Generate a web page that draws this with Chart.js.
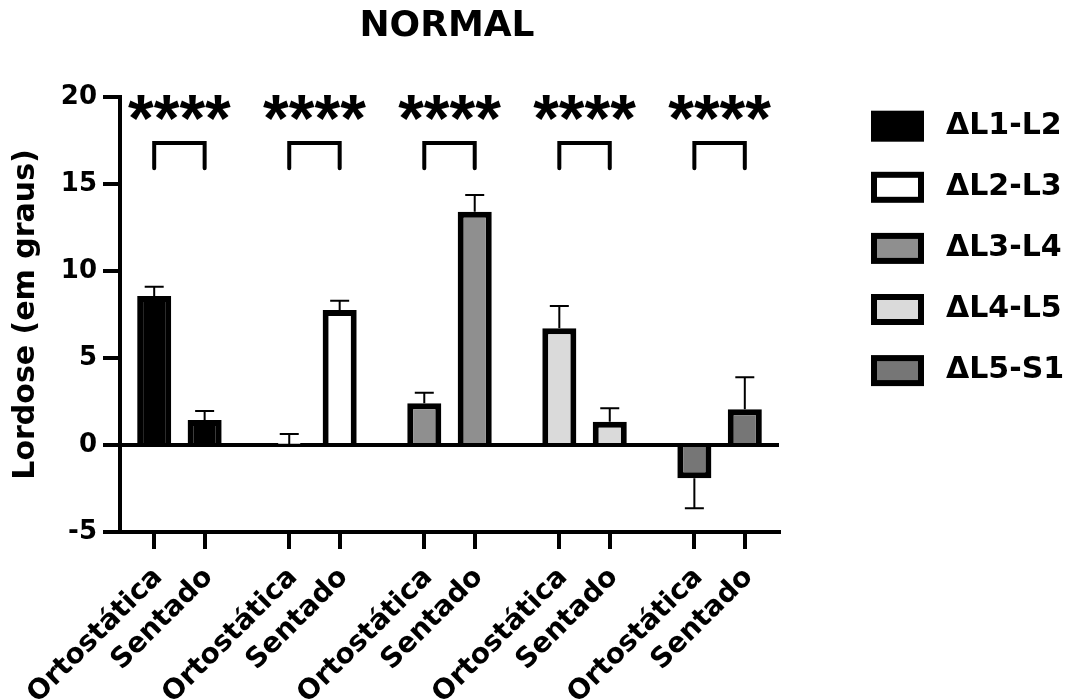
<!DOCTYPE html>
<html><head><meta charset="utf-8">
<script src="https://cdn.jsdelivr.net/npm/chart.js@4.4.1/dist/chart.umd.min.js"></script>
<style>html,body{margin:0;padding:0;background:#fff;}canvas{display:block;}</style>
</head><body>
<canvas id="c" width="1072" height="700"></canvas>
<script>
// ---- data ----
const chartTitle = 'NORMAL';
const yAxisTitle = 'Lordose (em graus)';
const series = ['ΔL1-L2', 'ΔL2-L3', 'ΔL3-L4', 'ΔL4-L5', 'ΔL5-S1'];
const positions = ['Ortostática', 'Sentado'];
const ortoMean = [8.56, 0.03, 2.40, 6.71, -1.91];
const ortoErr  = [0.54, 0.60, 0.61, 1.28, 1.72];
const sentMean = [1.44, 7.76, 13.41, 1.34, 2.05];
const sentErr  = [0.52, 0.53, 0.96, 0.77, 1.84];
const significance = ['****', '****', '****', '****', '****'];
const yTicks = [-5, 0, 5, 10, 15, 20];

// ---- styles ----
const seriesFill = ['#000000', '#ffffff', '#8f8f8f', '#dadada', '#767676'];
const FONT = "'DejaVu Sans', sans-serif";
const STAR_FONT = "'Liberation Sans', Arial, sans-serif";
const CP = 0.747, BP = 0.675;
const SIG = { bracketTop: 17.35, bracketLeg: 15.9, starBase: 17.45 };
const LEG = { x: 871, top: 110.7, step: 61.1, w: 53, h: 31, border: 6, textX: 946 };

const groupIdx = series.map((_, i) => i);

const overlay = {
  id: 'overlay',
  afterDatasetsDraw(chart) {
    const ctx = chart.ctx, y = chart.scales.y;
    ctx.save();
    ctx.strokeStyle = '#000';
    ctx.lineWidth = 2;
    ctx.lineCap = 'butt';
    chart.data.datasets.forEach((ds, d) => {
      const meta = chart.getDatasetMeta(d);
      meta.data.forEach((bar, j) => {
        const v = ds.data[j].y, e = ds.err[j];
        const end = v >= 0 ? v + e : v - e;
        const y0 = y.getPixelForValue(v), y1 = y.getPixelForValue(end);
        ctx.beginPath();
        ctx.moveTo(bar.x, y0); ctx.lineTo(bar.x, y1);
        ctx.moveTo(bar.x - 9.5, y1); ctx.lineTo(bar.x + 9.5, y1);
        ctx.stroke();
      });
    });
    const m0 = chart.getDatasetMeta(0).data, m1 = chart.getDatasetMeta(1).data;
    const yTop = y.getPixelForValue(SIG.bracketTop);
    const yLeg = y.getPixelForValue(SIG.bracketLeg);
    const yStar = y.getPixelForValue(SIG.starBase);
    ctx.lineWidth = 4;
    ctx.lineJoin = 'miter';
    ctx.lineCap = 'round';
    ctx.fillStyle = '#000';
    ctx.font = 'bold 66px ' + STAR_FONT;
    ctx.textAlign = 'center';
    ctx.textBaseline = 'alphabetic';
    significance.forEach((s, i) => {
      const xa = m0[i].x, xb = m1[i].x;
      ctx.beginPath();
      ctx.moveTo(xa, yLeg); ctx.lineTo(xa, yTop); ctx.lineTo(xb, yTop); ctx.lineTo(xb, yLeg);
      ctx.stroke();
      ctx.fillText(s, (xa + xb) / 2, yStar);
    });
    ctx.restore();
  },
  afterDraw(chart) {
    const ctx = chart.ctx;
    ctx.save();
    ctx.font = 'bold 30px ' + FONT;
    ctx.textBaseline = 'middle';
    ctx.textAlign = 'left';
    series.forEach((name, i) => {
      const top = LEG.top + i * LEG.step;
      ctx.fillStyle = '#000';
      ctx.fillRect(LEG.x, top, LEG.w, LEG.h);
      ctx.fillStyle = seriesFill[i];
      ctx.fillRect(LEG.x + LEG.border, top + LEG.border, LEG.w - 2 * LEG.border, LEG.h - 2 * LEG.border);
      ctx.fillStyle = '#000';
      ctx.fillText(name, LEG.textX, top + LEG.h / 2);
    });
    ctx.restore();
  }
};

const tickFont = { family: FONT, size: 26, weight: 'bold' };

new Chart(document.getElementById('c'), {
  type: 'bar',
  data: {
    datasets: [
      { label: positions[0], data: groupIdx.map(i => ({ x: i, y: ortoMean[i] })), err: ortoErr,
        backgroundColor: seriesFill, borderColor: '#000', borderWidth: 6,
        categoryPercentage: CP, barPercentage: BP, xAxisID: 'x', yAxisID: 'y' },
      { label: positions[1], data: groupIdx.map(i => ({ x: i, y: sentMean[i] })), err: sentErr,
        backgroundColor: seriesFill, borderColor: '#000', borderWidth: 6,
        categoryPercentage: CP, barPercentage: BP, xAxisID: 'x', yAxisID: 'y' }
    ]
  },
  options: {
    responsive: false, animation: false, devicePixelRatio: 1,
    layout: { padding: { left: 0, right: 178, top: 0, bottom: 0 } },
    plugins: {
      legend: { display: false },
      tooltip: { enabled: false },
      title: { display: true, text: chartTitle, color: '#000',
        font: { family: FONT, size: 36, weight: 'bold' }, padding: { top: 5, bottom: 48.8 } }
    },
    scales: {
      x: { type: 'linear', min: -0.44, max: 4.44, display: false, offset: false,
        grid: { offset: false },
        afterBuildTicks: s => { s.ticks = groupIdx.map(i => ({ value: i })); } },
      xl: { type: 'linear', position: 'bottom', min: -0.44, max: 4.44, offset: false,
        afterBuildTicks: s => { s.ticks = groupIdx.flatMap(i => [{ value: i - CP / 4 }, { value: i + CP / 4 }]); },
        afterFit: s => { s.height = 168; },
        grid: { offset: false, drawOnChartArea: false, drawTicks: true, tickLength: 17, lineWidth: 4, color: '#000', tickColor: '#000' },
        border: { display: true, color: '#000', width: 4 },
        ticks: { autoSkip: false, minRotation: 45, maxRotation: 45, color: '#000',
          font: { family: FONT, size: 28, weight: 'bold' }, padding: 12, labelOffset: 4,
          callback: (v, idx) => positions[idx % 2] } },
      y: { type: 'linear', min: -5, max: 20,
        afterBuildTicks: s => { s.ticks = yTicks.map(v => ({ value: v })); },
        afterFit: s => { s.width = 120; },
        title: { display: true, text: yAxisTitle, color: '#000',
          font: { family: FONT, size: 30, weight: 'bold' }, padding: { top: 8, bottom: 0 } },
        grid: { drawOnChartArea: true, drawTicks: true, tickLength: 17, lineWidth: 4, tickColor: '#000',
          color: c => (c.tick && c.tick.value === 0) ? '#000' : 'rgba(0,0,0,0)' },
        border: { display: true, color: '#000', width: 4 },
        ticks: { color: '#000', font: tickFont, padding: 6 } },
      yr: { type: 'linear', position: 'right', display: true,
        afterFit: s => { s.width = 115; },
        grid: { display: false }, border: { display: false }, ticks: { display: false } }
    }
  },
  plugins: [overlay]
});
</script>
</body></html>
